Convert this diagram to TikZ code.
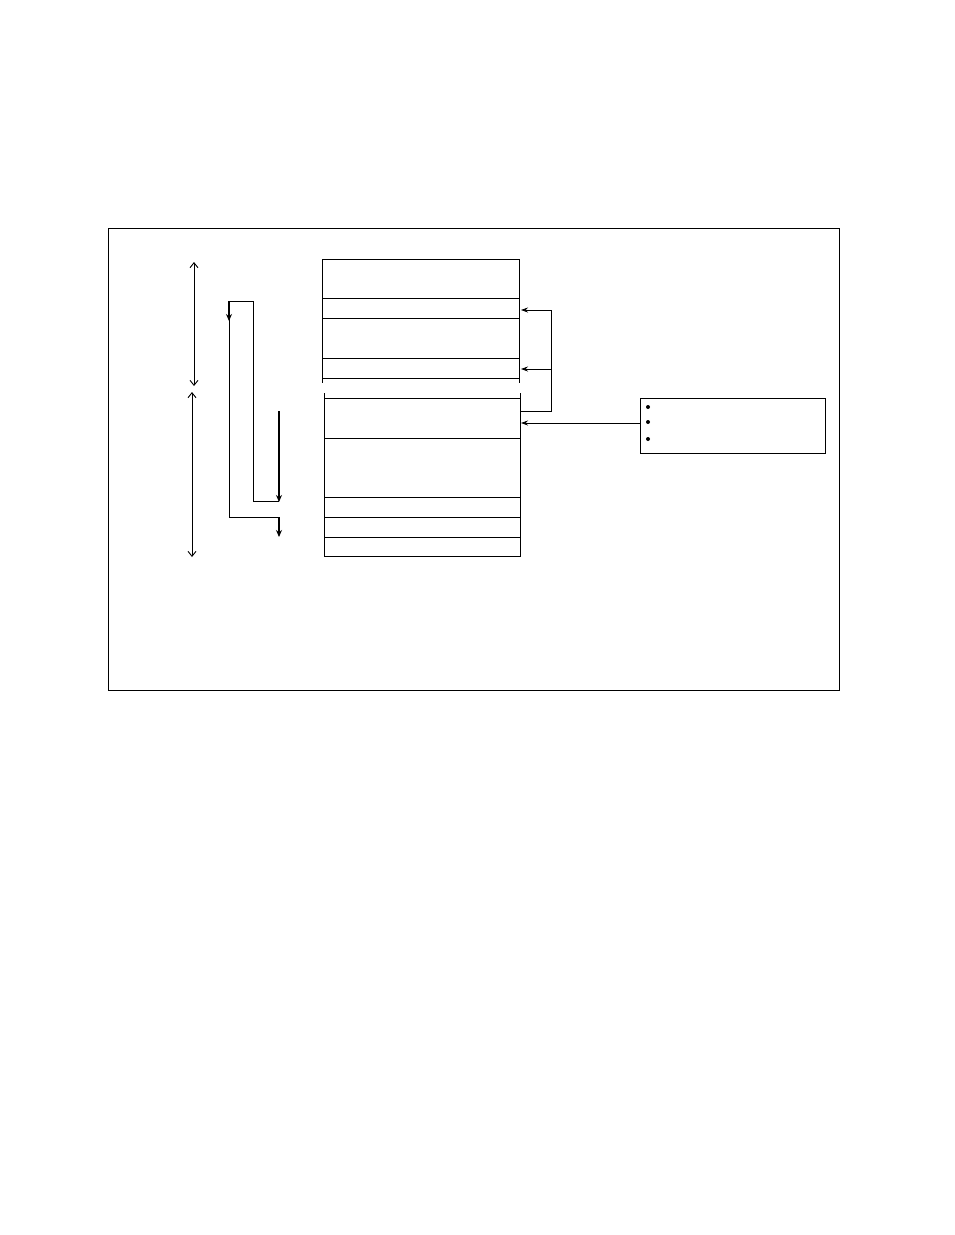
\documentclass[tikz,border=0pt]{standalone}
\usetikzlibrary{arrows.meta}
\begin{document}
\begin{tikzpicture}[x=1pt,y=-1pt,
  thin line/.style={line width=0.9pt,draw=black},
  dbl/.style={line width=0.9pt,{Straight Barb[length=5pt,width=8pt]}-{Straight Barb[length=5pt,width=8pt]}},
  ptr/.style={line width=0.8pt,-{Stealth[length=7pt,width=5pt]}},
  bold/.style={line width=1.8pt,-{Stealth[length=7pt,width=6pt]}},
  memline/.style={line width=0.9pt}]
\useasboundingbox (0,0) rectangle (954,1235);
% outer frame
\draw[thin line] (108,228) rectangle (839,690);
% upper memory block
\draw[memline] (322,259) -- (519,259);
\draw[memline] (322,259) -- (322,383);
\draw[memline] (519,259) -- (519,383);
\foreach \y in {298,318,358,378} \draw[memline] (322,\y) -- (519,\y);
% lower memory block
\draw[memline] (324,393) -- (324,556) -- (520,556) -- (520,393);
\foreach \y in {398,438,497,517,537} \draw[memline] (324,\y) -- (520,\y);
% left double arrows
\draw[dbl] (194,262) -- (194,386);
\draw[dbl] (192,392) -- (192,557);
% flow arrows
\coordinate (ta) at (253,301);
\coordinate (tb) at (229,301);
\draw[line width=0.9pt] (ta) -- (253,501) -- (279,501);
\draw[line width=0.9pt] (ta) -- (tb);
\draw[bold] (tb) -- (229,321);
\draw[line width=0.9pt] (229,319) -- (229,517) -- (279,517);
\draw[bold] (279,411) -- (279,502);
\draw[bold] (279,517) -- (279,537);
% right side pointers
\coordinate (p1) at (521,310);
\coordinate (p2) at (521,369);
\draw[line width=0.9pt] (520,411) -- (551,411) -- (551,310);
\draw[ptr] (551,310) -- (p1);
\draw[ptr] (551,369) -- (p2);
% info box
\node[draw,line width=0.9pt,minimum width=185pt,minimum height=55pt,anchor=north west,inner sep=0pt] (box) at (640,398) {};
\draw[ptr] (box.west |- 0,423) -- (521,423);
\foreach \y in {407,422,439} \fill (648,\y) circle (2pt);
\end{tikzpicture}
\end{document}
